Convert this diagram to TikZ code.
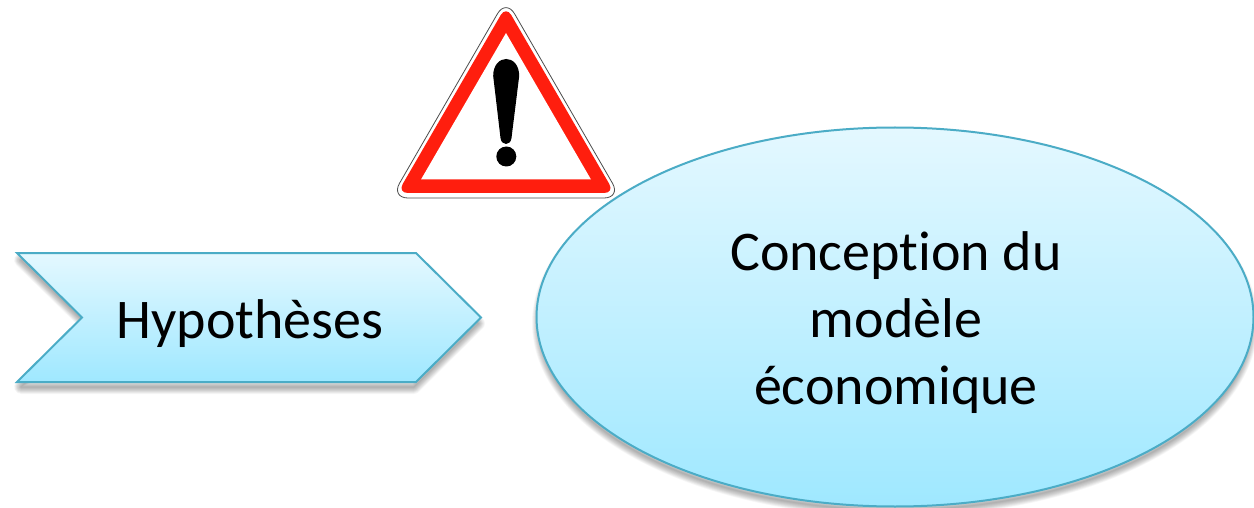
\documentclass[tikz,border=0pt]{standalone}
\usepackage{fontspec}
\setmainfont{Carlito}[Ligatures=NoCommon]
\usetikzlibrary{shapes.geometric}
\definecolor{edgeblue}{HTML}{4BACC6}
\definecolor{fillTop}{HTML}{E4F8FF}
\definecolor{fillBot}{HTML}{9FE8FF}
\definecolor{signred}{HTML}{FF1E0E}
\tikzset{
  x=1pt,y=-1pt,
  lbl/.style={font=\fontsize{56}{67}\selectfont,align=center,text=black,inner sep=0pt},
  blueshape/.style={draw=edgeblue,line width=2pt,top color=fillTop,bottom color=fillBot,line join=miter},
  shd/.style={draw=black,draw opacity=0.022,line width=#1,line join=round},
}
\newcommand{\chevpath}{(21,254) -- (414,254) -- (478,317.5) -- (414,381) -- (21,381) -- (86,317.5) -- cycle}
\newcommand{\chevfull}{(17,253) -- (416,253) -- (481,317.5) -- (416,382) -- (17,382) -- (82,317.5) -- cycle}
\newcommand{\ellpath}{(895,317) ellipse [x radius=356,y radius=187]}
\begin{document}
\begin{tikzpicture}
\useasboundingbox (0,0) rectangle (1254,508);
\clip (0,0) rectangle (1254,508);
\fill[white] (0,0) rectangle (1254,508);
% soft shadows
\foreach \w in {1,2,...,14}{
  \path[shd=\w pt,yshift=-6pt] \chevpath;
  \path[shd=\w pt,yshift=-6pt] \ellpath;
}
% shapes
\path[blueshape] \chevfull;
\node[draw=edgeblue,line width=2pt,top color=fillTop,bottom color=fillBot,ellipse,minimum width=717pt,minimum height=379pt,inner sep=0pt] (model) at (895,317) {};
\node[lbl] (hyp) at (250,324) {Hypothèses};
\node[lbl] (txt) at (896,323) {Conception du\\modèle\\économique};
% warning sign
\draw[draw=black!70,fill=white,line width=0.8pt,rounded corners=17pt] (506,-1) -- (621,198) -- (391,198) -- cycle;
\fill[signred,rounded corners=10.4pt] (506,6) -- (614.5,193) -- (397.5,193) -- cycle;
\fill[white] (506,33) -- (591,179.5) -- (421,179.5) -- cycle;
\fill[black] (493.2,76) .. controls (493.2,53.3) and (519.2,53.3) .. (519.2,76)
  -- (511.5,138) .. controls (510.5,146) and (501.5,146) .. (500.5,138) -- cycle;
\fill[black] (506.3,156.5) circle [radius=10];
\end{tikzpicture}
\end{document}
